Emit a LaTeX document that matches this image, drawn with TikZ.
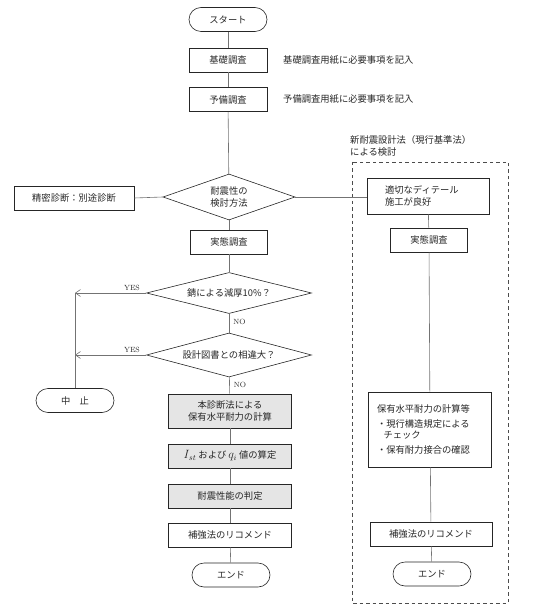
\documentclass[tikz,border=0pt]{standalone}
\usepackage{fontspec}
\newfontfamily\jp{Noto Sans CJK JP}
\usetikzlibrary{shapes.geometric,arrows.meta}
\tikzset{
  base/.style={draw=black!85, line width=0.6pt, font=\jp\fontsize{9.3}{11.5}\selectfont, inner sep=0pt, text=black!85},
  box/.style={base, rectangle, minimum width=#1, minimum height=24pt},
  box/.default=78pt,
  shaded/.style={fill=black!10},
  term/.style={base, rectangle, rounded corners=12pt, minimum width=78pt, minimum height=24pt},
  dia/.style={base, diamond, aspect=3.5},
  conn/.style={draw=black!55, line width=0.6pt},
  lbl/.style={font=\fontsize{7.5}{8}\selectfont, text=black!85, inner sep=1pt},
  side/.style={font=\jp\fontsize{9.3}{11.5}\selectfont, text=black!85, inner sep=0pt, anchor=west},
}
\begin{document}
\begin{tikzpicture}[x=1pt,y=-1pt]
\useasboundingbox (0,0) rectangle (550,612);
% main column
\node[term] (start) at (228,19.5) {スタート};
\node[box] (kiso) at (228,60) {基礎調査};
\node[side] (kisot) at (283,60) {基礎調査用紙に必要事項を記入};
\node[box] (yobi) at (228,99.5) {予備調査};
\node[side] (yobit) at (283,99.5) {予備調査用紙に必要事項を記入};
\node[dia, minimum width=132pt, minimum height=46pt, align=center] (meth) at (229,197) {耐震性の\\検討方法};
\node[box=120pt] (seim) at (74,198) {精密診断：別途診断};
\node[box=77pt] (jit1) at (229,242) {実態調査};
\node[dia, minimum width=165pt, minimum height=41pt] (sabi) at (229,293) {錆による減厚10\%？};
\node[dia, minimum width=165pt, minimum height=44pt] (sekk) at (229,355) {設計図書との相違大？};
\node[term] (chu) at (75,400.5) {中\quad 止};
\node[box=123pt, shaded, minimum height=34pt, align=center] (hon) at (230,411) {本診断法による\\保有水平耐力の計算};
\node[box=123pt, shaded] (ist) at (230,456) {{\fontsize{12}{12}\selectfont$I_{st}$} および {\fontsize{12}{12}\selectfont$q_i$} 値の算定};
\node[box=123pt, shaded] (han) at (230,496) {耐震性能の判定};
\node[box=123pt] (hok1) at (230,535) {補強法のリコメンド};
\node[term] (end1) at (231,575) {エンド};
\coordinate (y1) at (75,293);
\coordinate (y2) at (75,355);
% right column
\node[side, anchor=north west, align=left, font=\jp\fontsize{9.3}{11.5}\selectfont] (head) at (350,135.5) {新耐震設計法（現行基準法）\\による検討};
\node[box=122pt, minimum height=36pt, text width=86pt, inner xsep=18pt, align=left] (tek) at (428,196) {適切なディテール\\施工が良好};
\node[box=77pt] (jit2) at (429,240) {実態調査};
\node[box=123pt, minimum height=75pt, text width=106pt, inner xsep=8.5pt, align=left] (hoyu) at (430,429.5) {保有水平耐力の計算等\\[4pt]・現行構造規定による\\[-1pt]\hspace*{0.7em}チェック\\[4pt]・保有耐力接合の確認};
\node[box=122pt] (hok2) at (431,534) {補強法のリコメンド};
\node[term] (end2) at (432,574) {エンド};
\draw[black!70, line width=0.6pt, dash pattern=on 3.5pt off 3pt] (352,162) rectangle (508,603);
% connectors
\draw[conn] (start) -- (kiso);
\draw[conn] (kiso) -- (yobi);
\draw[conn] (yobi) -- (meth);
\draw[conn] (meth.west) -- (seim.east);
\draw[conn] (meth.east) -- (tek.west |- meth.east);
\draw[conn] (meth) -- (jit1);
\draw[conn] (jit1) -- (sabi);
\draw[conn] (sabi) -- node[lbl, right, pos=0.45, xshift=3pt] {NO} (sekk);
\draw[conn] (sekk) -- node[lbl, right, pos=0.45, xshift=3pt] {NO} (hon);
\draw[conn] (hon) -- (ist);
\draw[conn] (ist) -- (han);
\draw[conn] (han) -- (hok1);
\draw[conn] (hok1) -- (end1);
\draw[conn, -{Straight Barb[length=5pt,width=7pt]}] (sabi.west) -- node[lbl, above, pos=0.2, yshift=1pt] {YES} (y1);
\draw[conn, -{Straight Barb[length=5pt,width=7pt]}] (sekk.west) -- node[lbl, above, pos=0.2, yshift=1pt] {YES} (y2);
\draw[conn] (y1) -- (chu);
\draw[conn] (tek) -- (jit2);
\draw[conn] (jit2) -- (hoyu);
\draw[conn] (hoyu) -- (hok2);
\draw[conn] (hok2) -- (end2);
\end{tikzpicture}
\end{document}
